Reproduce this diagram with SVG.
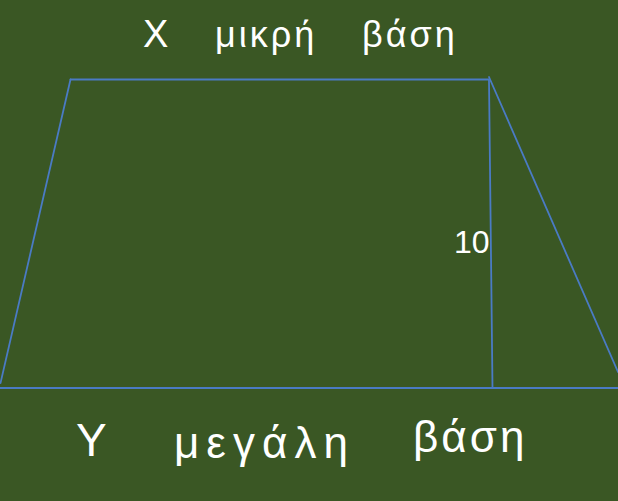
<svg xmlns="http://www.w3.org/2000/svg" width="618" height="501" viewBox="0 0 618 501">
<style>
.ln{stroke:#4a7bc4;stroke-width:1.8;fill:none;stroke-linecap:round}
.lbl{fill:#ffffff;font-family:"Liberation Sans","DejaVu Sans",sans-serif;font-weight:300}
</style>
<rect width="618" height="501" fill="#3a5724"/>
<g id="connectors">
<line class="ln" x1="70.5" y1="79.5" x2="489" y2="79.5"/>
<line class="ln" x1="70.5" y1="79.5" x2="0.5" y2="383"/>
<line class="ln" x1="489" y1="77" x2="618" y2="372"/>
<line class="ln" x1="489" y1="80" x2="492.5" y2="388"/>
<line class="ln" x1="0" y1="388" x2="618" y2="388"/>
</g>
<g id="top-label"><text class="lbl" x="143" y="47" font-size="38">Χ</text><text class="lbl" x="215" y="47" font-size="36" letter-spacing="3">μικρή</text><text class="lbl" x="362" y="47" font-size="36" letter-spacing="3">βάση</text></g>
<g id="height-label"><text class="lbl" x="454" y="253" font-size="32">10</text></g>
<g id="bottom-label"><text class="lbl" x="76" y="456" font-size="46">Υ</text><text class="lbl" x="174" y="458" font-size="44" letter-spacing="7">μεγάλη</text><text class="lbl" x="413" y="452" font-size="44" letter-spacing="3">βάση</text></g>
</svg>
